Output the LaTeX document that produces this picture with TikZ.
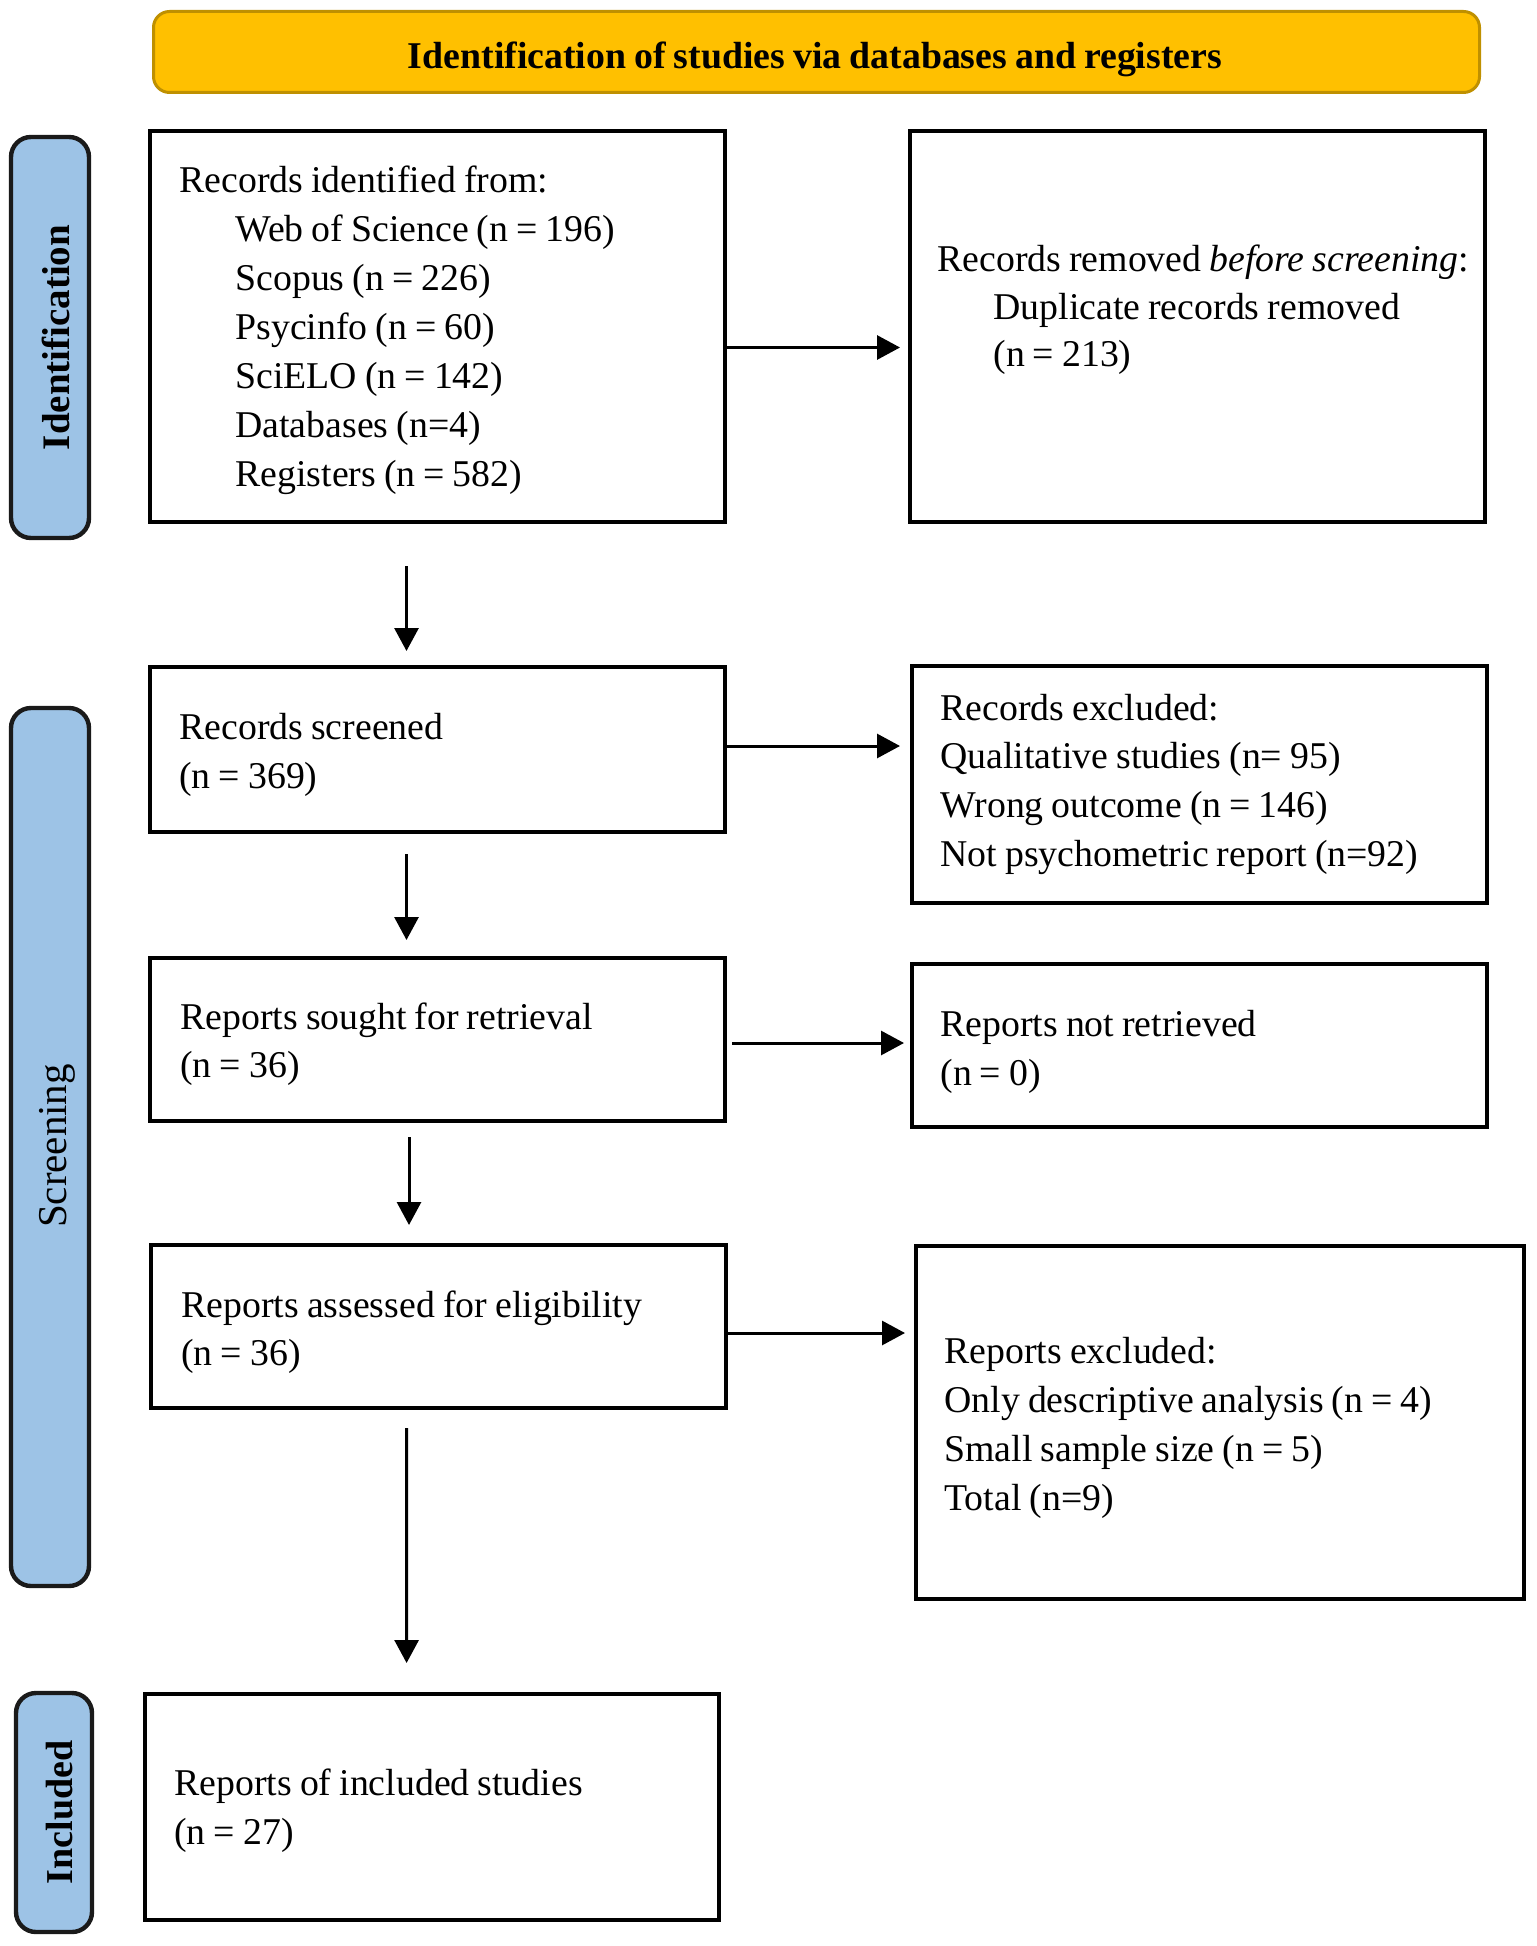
\documentclass[tikz,border=0pt]{standalone}
\usepackage{fontspec}
\setmainfont{Liberation Serif}[WordSpace=0.85]
\usetikzlibrary{arrows.meta,calc}
\definecolor{hdrfill}{HTML}{FFC000}
\definecolor{hdrline}{HTML}{BF9000}
\definecolor{labfill}{HTML}{9DC3E6}
\definecolor{labline}{HTML}{1A1A1A}
\begin{document}
\begin{tikzpicture}[x=0.5pt,y=-0.5pt,
  box/.style={draw=black,line width=2pt,inner sep=0pt,fill=white,minimum width=287.5pt},
  hdr/.style={draw=hdrline,fill=hdrfill,line width=1.5pt,rounded corners=8pt,inner sep=0pt},
  lab/.style={draw=labline,fill=labfill,line width=2.2pt,rounded corners=10pt,inner sep=0pt},
  txt/.style={anchor=base west,inner sep=0pt,font=\fontsize{18.9}{24.5}\selectfont},
  labtxt/.style={anchor=base,rotate=90,inner sep=0pt,font=\fontsize{19}{22}\selectfont},
  arr/.style={line width=1.5pt,-{Triangle[length=11.5pt,width=12pt]}}]
\useasboundingbox (0,0) rectangle (1536,1946);
% header
\node[hdr,minimum width=663pt,minimum height=40.5pt] (hdr) at (816.5,52) {};
\node[anchor=base,inner sep=0pt,font=\fontsize{18.9}{22}\selectfont\bfseries] (hdrt) at (815,69) {Identification of studies via databases and registers};
% side labels
\node[lab,minimum width=39pt,minimum height=200.5pt] (lab1) at (50,337.5) {};
\node[labtxt,font=\fontsize{19.5}{22}\selectfont\bfseries] (lab1t) at (69,337.5) {Identification};
\node[lab,minimum width=39pt,minimum height=439pt] (lab2) at (50,1147) {};
\node[labtxt,font=\fontsize{20.5}{22}\selectfont] (lab2t) at (66,1146) {Screening};
\node[lab,minimum width=38pt,minimum height=119.5pt] (lab3) at (54,1812.5) {};
\node[labtxt,font=\fontsize{19}{22}\selectfont\bfseries] (lab3t) at (72,1812.5) {Included};
% boxes
\node[box,minimum height=195.5pt] (b1) at (437.5,326.5) {};
\node[box,minimum height=195.5pt] (b2) at (1197.5,326.5) {};
\node[box,minimum height=82.5pt] (b3) at (437.5,749.5) {};
\node[box,minimum height=118.5pt] (b4) at (1199.5,784.5) {};
\node[box,minimum height=81.5pt] (b5) at (437.5,1039.5) {};
\node[box,minimum height=81.5pt] (b6) at (1199.5,1045.5) {};
\node[box,minimum height=81.5pt] (b7) at (438.5,1326.5) {};
\node[box,minimum width=304pt,minimum height=176.5pt] (b8) at (1220,1422.5) {};
\node[box,minimum width=287pt,minimum height=113pt] (b9) at (432,1807) {};
% texts box 1
\node[txt] (t1a) at (179,193) {Records identified from:};
\node[txt] (t1b) at (235,242) {Web of Science (n = 196)};
\node[txt] (t1c) at (235,291) {Scopus (n = 226)};
\node[txt] (t1d) at (235,340) {Psycinfo (n = 60)};
\node[txt] (t1e) at (235,389) {SciELO (n = 142)};
\node[txt] (t1f) at (235,438) {Databases (n=4)};
\node[txt] (t1g) at (235,487) {Registers (n = 582)};
% box 2
\node[txt] (t2a) at (937,272) {Records removed \emph{before screening}:};
\node[txt] (t2b) at (993,320) {Duplicate records removed};
\node[txt] (t2c) at (993,367) {(n = 213)};
% box 3
\node[txt] (t3a) at (179,739) {Records screened};
\node[txt] (t3b) at (179,788) {(n = 369)};
% box 4
\node[txt] (t4a) at (940,720) {Records excluded:};
\node[txt] (t4b) at (940,768) {Qualitative studies (n= 95)};
\node[txt] (t4c) at (940,817) {Wrong outcome (n = 146)};
\node[txt] (t4d) at (940,866) {Not psychometric report (n=92)};
% box 5
\node[txt] (t5a) at (180,1029) {Reports sought for retrieval};
\node[txt] (t5b) at (180,1077) {(n = 36)};
% box 6
\node[txt] (t6a) at (940,1036) {Reports not retrieved};
\node[txt] (t6b) at (940,1085) {(n = 0)};
% box 7
\node[txt] (t7a) at (181,1317) {Reports assessed for eligibility};
\node[txt] (t7b) at (181,1365) {(n = 36)};
% box 8
\node[txt] (t8a) at (944,1363) {Reports excluded:};
\node[txt] (t8b) at (944,1412) {Only descriptive analysis (n = 4)};
\node[txt] (t8c) at (944,1461) {Small sample size (n = 5)};
\node[txt] (t8d) at (944,1510) {Total (n=9)};
% box 9
\node[txt] (t9a) at (174,1795) {Reports of included studies};
\node[txt] (t9b) at (174,1844) {(n = 27)};
% horizontal arrows
\draw[arr] ($(b1.east)+(0,21)$) -- ($(b2.west)+(-8,21)$);
\draw[arr] ($(b3.east)+(0,-3.5)$) -- ($(b4.west)+(-10,-38.5)$);
\draw[arr] ($(b5.east)+(5,3.5)$) -- ($(b6.west)+(-6,-2.5)$);
\draw[arr] ($(b7.east)+(0,6.5)$) -- ($(b8.west)+(-9,-89.5)$);
% vertical arrows
\draw[arr] ($(b1.south)+(-31,42)$) -- ($(b3.north)+(-31,-14)$);
\draw[arr] ($(b3.south)+(-31,20)$) -- ($(b5.north)+(-31,-16)$);
\draw[arr] ($(b5.south)+(-28.5,14)$) -- ($(b7.north)+(-29.5,-18)$);
\draw[arr] ($(b7.south)+(-32,18)$) -- ($(b9.north)+(-25.4,-29)$);
\end{tikzpicture}
\end{document}
